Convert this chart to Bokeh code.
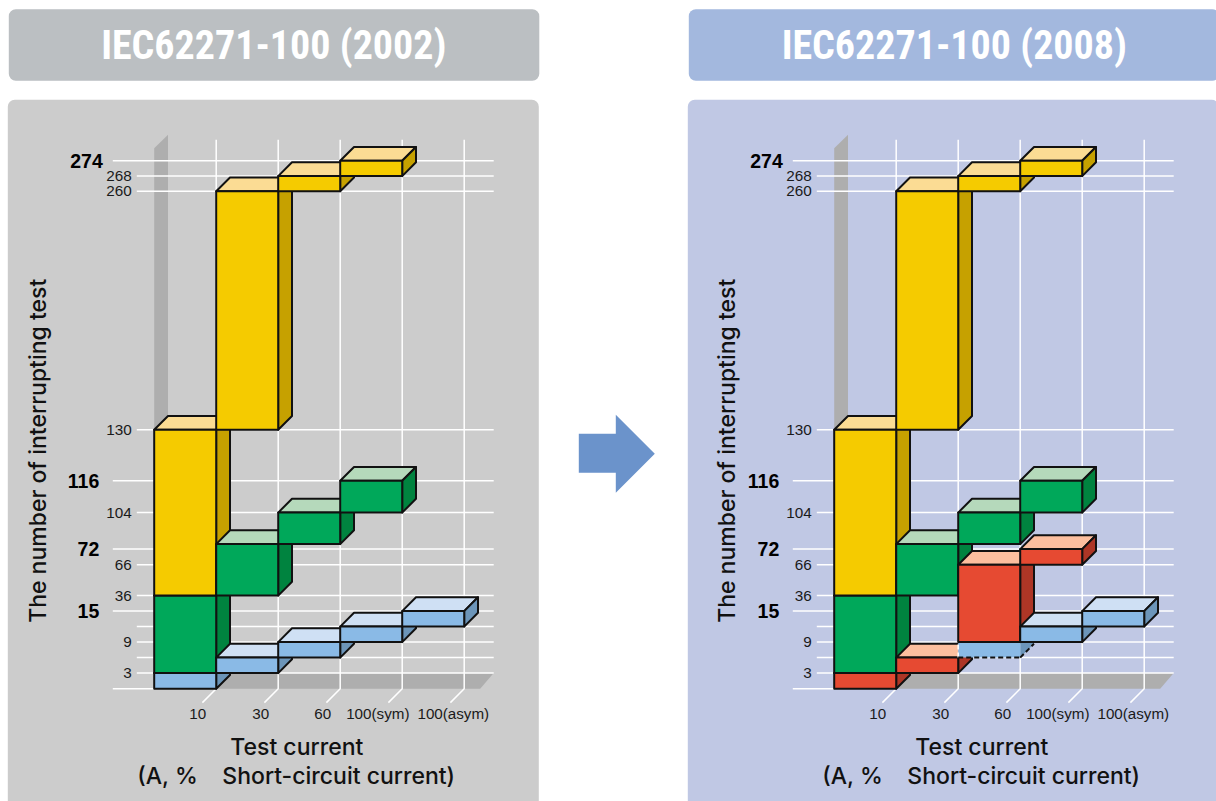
from bokeh.embed import file_html
from bokeh.resources import INLINE
from bokeh.plotting import figure
from bokeh.models import Range1d
from bokeh.core.properties import value
import numpy as np

# ---------- data ----------
CATEGORIES = ["10", "30", "60", "100(sym)", "100(asym)"]
TITLE_2002 = "IEC62271-100 (2002)"
TITLE_2008 = "IEC62271-100 (2008)"
Y_TITLE = "The number of interrupting test"
X_TITLE_1 = "Test current"
X_TITLE_2 = "(A, %\u00a0\u00a0\u00a0\u00a0Short-circuit current)"

TICKS_NORMAL = [3, 9, 36, 66, 104, 130, 260, 268]
TICKS_BOLD = [15, 72, 116, 274]
TICKS_UNLABELLED = [6, 12]

# column index, bottom, top
BLUE_2002_COL = [0, 1, 2, 3, 4]
BLUE_2002_BOTTOM = [0, 3, 6, 9, 12]
BLUE_2002_TOP = [3, 6, 9, 12, 15]

GREEN_COL = [0, 1, 2, 3]
GREEN_BOTTOM = [3, 36, 80, 104]
GREEN_TOP = [36, 80, 104, 116]

YELLOW_COL = [0, 1, 2, 3]
YELLOW_BOTTOM = [36, 130, 260, 268]
YELLOW_TOP = [130, 260, 268, 274]

RED_2008_COL = [0, 1, 2, 3]
RED_2008_BOTTOM = [0, 3, 9, 66]
RED_2008_TOP = [3, 6, 66, 72]

BLUE_2008_COL = [3, 4]
BLUE_2008_BOTTOM = [9, 12]
BLUE_2008_TOP = [12, 15]

# removed test of the 2008 edition, shown dashed
DASHED_COL = 2
DASHED_BOTTOM = 6
DASHED_TOP = 9

# ---------- broken value axis (value -> vertical position) ----------
AXIS_VALUES = [0, 3, 6, 9, 12, 15, 36, 66, 72, 80, 104, 116, 130, 260, 268, 274]
AXIS_PIXELS = [689, 673.3, 657.8, 642.3, 626.8, 611.3, 595.8, 565, 549.3, 544.3, 512.8, 481, 430, 191.5, 176.3, 161]


def yp(v):
    return float(np.interp(v, AXIS_VALUES, AXIS_PIXELS))


# ---------- style ----------
FONT = value("Liberation Sans")
TITLE_FONT = value("Roboto Condensed")
LABEL_FONT = value("Inter Medium")
C = {
    "yellow": ("#f5cb00", "#fbdc94", "#c6a100"),
    "green": ("#00a85a", "#b5d9bb", "#00833f"),
    "blue": ("#8abae6", "#cfe0f4", "#6c95b9"),
    "red": ("#e64a32", "#fcbf9f", "#ad3626"),
}
EDGE = "#111111"
WALL = "#aeaeae"
COL_W = 62.0
X0 = 154.4
DEPTH = 13.8
SHIFT = 0.7

p = figure(width=1216, height=801, output_backend="svg", toolbar_location=None,
           x_range=Range1d(SHIFT, 1216 + SHIFT), y_range=Range1d(801 + SHIFT, SHIFT),
           min_border=0, outline_line_color=None, background_fill_color="white",
           border_fill_color="white")
p.axis.visible = False
p.grid.visible = False


def panel_box(left, right, top, bottom, color):
    p.quad(left=[left], right=[right], top=[top], bottom=[bottom], fill_color=color,
           line_color=None, border_radius=7)


def block(ox, col, bottom, top, color, dashed=False):
    x0 = ox + X0 + col * COL_W
    x1 = x0 + COL_W
    y0, y1 = yp(bottom), yp(top)
    front, topc, side = C[color]
    lw = 2
    dash = "5 3"
    if not dashed:
        p.patch([x0, x0 + DEPTH, x1 + DEPTH, x1], [y1, y1 - DEPTH, y1 - DEPTH, y1],
                fill_color=topc, line_color=EDGE, line_width=lw, line_join="round")
        p.patch([x1, x1 + DEPTH, x1 + DEPTH, x1], [y1, y1 - DEPTH, y0 - DEPTH, y0],
                fill_color=side, line_color=EDGE, line_width=lw, line_join="round")
        p.patch([x0, x1, x1, x0], [y1, y1, y0, y0],
                fill_color=front, line_color=EDGE, line_width=lw, line_join="round")
    else:
        p.patch([x1, x1 + DEPTH, x1 + DEPTH, x1], [y1, y1 - DEPTH, y0 - DEPTH, y0],
                fill_color=side, line_color=None)
        p.patch([x0, x1, x1, x0], [y1, y1, y0, y0], fill_color=front, line_color=None)
        p.line([x0, x1], [y1, y1], line_color="white", line_width=1.5, line_dash=dash)
        p.line([x0, x0], [y0, y1], line_color="white", line_width=1.5, line_dash=dash)
        p.line([x0, x1], [y0, y0], line_color=EDGE, line_width=lw, line_dash=dash)
        p.line([x1, x1 + DEPTH], [y0, y0 - DEPTH], line_color=EDGE, line_width=lw, line_dash=dash)


def chart(ox, title, title_cx, header_left, header_color, panel_left, panel_color,
          ytitle_x, xtitle_cx1, xtitle_cx2, layers):
    panel_box(header_left, header_left + 530.5, 9.5, 81, header_color)
    panel_box(panel_left, panel_left + 531, 100, 830, panel_color)
    p.text([title_cx], [46], text=[title], text_font=TITLE_FONT, text_font_style="bold",
           text_font_size="40px", text_color="white", text_align="center", text_baseline="middle")

    xr = ox + X0 + 5 * COL_W
    # back wall and floor
    p.patch([ox + X0, ox + X0 + DEPTH, ox + X0 + DEPTH, ox + X0],
            [148.5, 135, 689 - DEPTH, 689], fill_color=WALL, line_color=None)
    p.patch([ox + X0, ox + X0 + DEPTH, xr + 29.5, xr + 16],
            [689, 673.3, 673.3, 689], fill_color=WALL, line_color=None)

    # grid
    for v in TICKS_NORMAL + TICKS_BOLD + TICKS_UNLABELLED:
        start = ox + (113 if v in TICKS_BOLD else 137)
        p.line([start, xr + 29.5], [yp(v), yp(v)], line_color="white", line_width=1.5)
    p.line([ox + 113, ox + X0], [689, 689], line_color="white", line_width=1.5)
    for i in range(5):
        x = ox + X0 + (i + 1) * COL_W
        p.line([x, x, x - DEPTH], [140, 689, 689 + DEPTH], line_color="white", line_width=1.5)

    # blocks, back-to-front
    for col, bot, top, colr, dashed in layers:
        block(ox, col, bot, top, colr, dashed)

    # tick labels
    for v in TICKS_NORMAL:
        p.text([ox + 132], [yp(v)], text=[str(v)], text_font=FONT, text_font_size="15.3px",
               text_color="#1a1a1a", text_align="right", text_baseline="middle")
    for v in TICKS_BOLD:
        p.text([ox + (103 if v == 274 else 99.5)], [yp(v)], text=[str(v)], text_font=FONT,
               text_font_style="bold", text_font_size="19.5px", text_color="black",
               text_align="right", text_baseline="middle")
    xlab = [198, 261, 323, 378, 453.5]
    for c, x in zip(CATEGORIES, xlab):
        p.text([ox + x], [714], text=[c], text_font=FONT, text_font_size="15.2px",
               text_color="#1a1a1a", text_align="center", text_baseline="middle")

    # axis titles
    p.text([ytitle_x], [451], text=[Y_TITLE], text_font=LABEL_FONT,
           text_font_size="23px", text_color="#111111", angle=np.pi / 2,
           text_align="center", text_baseline="middle")
    p.text([xtitle_cx1], [747], text=[X_TITLE_1], text_font=LABEL_FONT,
           text_font_size="23px", text_color="#111111", text_align="center", text_baseline="middle")
    p.text([xtitle_cx2], [776], text=[X_TITLE_2], text_font=LABEL_FONT,
           text_font_size="23px", text_color="#111111", text_align="center", text_baseline="middle")


def by_col(series):
    layers = []
    for cols, bots, tops, colr, dashed in series:
        for c, b, t in zip(cols, bots, tops):
            layers.append((c, b, t, colr, dashed))
    return sorted(layers, key=lambda r: r[0])


layers_2002 = by_col([
    (BLUE_2002_COL, BLUE_2002_BOTTOM, BLUE_2002_TOP, "blue", False),
    (GREEN_COL, GREEN_BOTTOM, GREEN_TOP, "green", False),
    (YELLOW_COL, YELLOW_BOTTOM, YELLOW_TOP, "yellow", False),
])
layers_2008 = by_col([
    ([DASHED_COL], [DASHED_BOTTOM], [DASHED_TOP], "blue", True),
    (BLUE_2008_COL, BLUE_2008_BOTTOM, BLUE_2008_TOP, "blue", False),
    (RED_2008_COL, RED_2008_BOTTOM, RED_2008_TOP, "red", False),
    (GREEN_COL, GREEN_BOTTOM, GREEN_TOP, "green", False),
    (YELLOW_COL, YELLOW_BOTTOM, YELLOW_TOP, "yellow", False),
])

chart(0, TITLE_2002, 274, 9, "#bbbfc2", 8, "#cccccc", 38, 297, 296.5, layers_2002)
chart(680, TITLE_2008, 954.5, 689, "#a3b8de", 688, "#c0c8e4", 727, 982, 981.5, layers_2008)

# arrow between the two panels
p.patch([579, 616, 616, 655, 616, 616, 579], [434, 434, 415, 454, 493, 473, 473],
        fill_color="#6b93cb", line_color=None)

open("out.html", "w").write(file_html(p, INLINE))
